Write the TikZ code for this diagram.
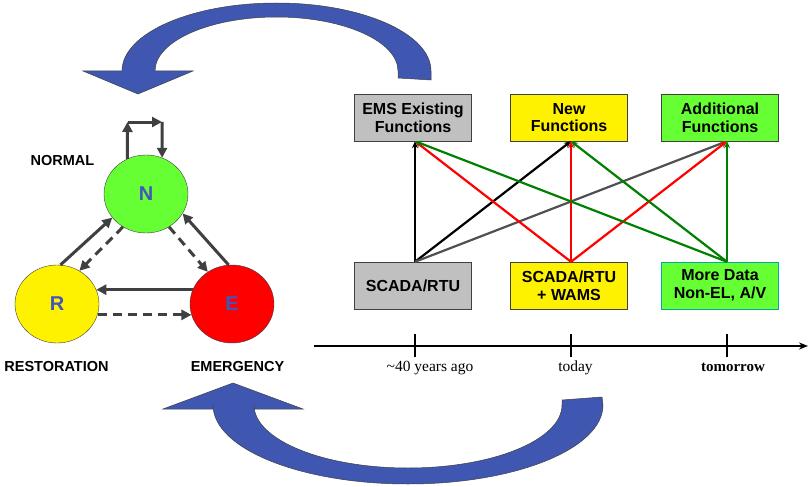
\documentclass[tikz,border=0pt]{standalone}
\usepackage{fontspec}
\setmainfont{Liberation Serif}
\setsansfont{Liberation Sans}
\usetikzlibrary{shapes,arrows.meta}

\definecolor{boxgray}{RGB}{192,192,192}
\definecolor{lightgreen}{RGB}{102,255,51}
\definecolor{bigblue}{RGB}{63,87,176}
\definecolor{letterblue}{RGB}{68,84,190}
\definecolor{arrowgray}{RGB}{64,64,64}
\definecolor{linegray}{RGB}{80,80,80}
\definecolor{darkgreen}{RGB}{0,128,0}
\definecolor{tealborder}{RGB}{0,170,170}

\tikzset{
	state/.style={ellipse,draw=arrowgray,minimum width=84pt,minimum height=78pt,inner sep=0pt,
		font=\sffamily\bfseries\fontsize{20}{22}\selectfont,text=letterblue},
	statelabel/.style={font=\sffamily\bfseries\fontsize{14.5}{16}\selectfont},
	statearrow/.style={draw=arrowgray,line width=3pt,-{Triangle[length=10pt,width=10pt]}},
	dasharrow/.style={statearrow,dash pattern=on 9pt off 6pt},
	fbox/.style={draw=arrowgray,minimum width=117pt,minimum height=47pt,inner sep=0pt,align=center,
		font=\sffamily\bfseries\fontsize{16}{17.8}\selectfont},
	conn/.style={line width=2.2pt,-{Stealth[length=7pt,width=6pt]}},
	timelabel/.style={anchor=base,font=\fontsize{15.5}{17}\selectfont}
}

\begin{document}
\begin{tikzpicture}[x=1pt,y=-1pt]
	\useasboundingbox (0,0) rectangle (809,487);
	% big turn-around arrows
	\fill[bigblue,draw=arrowgray,line width=0.5pt] (431,80) -- (431,71) arc[start angle=0,end angle=-180,x radius=154.5,y radius=68] -- (83,71) -- (138,94) -- (193,71) -- (155,71) arc[start angle=-180,end angle=0,x radius=121.5,y radius=54] -- (398,78) -- cycle;
	\fill[bigblue,draw=arrowgray,line width=0.5pt] (213,409) -- (163,409) -- (233,383) -- (303,409) -- (254,409) -- (254,405) arc[start angle=180,end angle=0,x radius=154,y radius=63] -- (562,400) -- (602,397) -- (603,405) arc[start angle=0,end angle=180,x radius=195,y radius=79] -- cycle;

	% states
	\node[state,fill=lightgreen] (N) at (146,194) {N};
	\node[state,fill=yellow] (R) at (57,304) {R};
	\node[state,fill=red] (E) at (232,304) {E};
	\node[statelabel] (normal) at (62.5,160.5) {NORMAL};
	\node[statelabel] (restoration) at (56.5,366.5) {RESTORATION};
	\node[statelabel] (emergency) at (237.5,366.5) {EMERGENCY};

	\coordinate (loopa) at (127.5,122);
	\coordinate (loopb) at (162,122);
	\draw[statearrow] (N.118) -- (loopa);
	\draw[statearrow] (loopa) -- (loopb);
	\draw[statearrow] (loopb) -- (N.66);
	\draw[statearrow] (R.85) -- (N.215);
	\draw[dasharrow] (N.235) -- (R.56);
	\draw[dasharrow] (N.305) -- (E.127);
	\draw[statearrow] (E.95) -- (N.332);
	\draw[statearrow] (E.160) -- (R.20);
	\draw[dasharrow] (R.345) -- (E.195);

	% functions and data
	\node[fbox,fill=boxgray] (ems) at (413,117.5) {EMS Existing\\Functions};
	\node[fbox,fill=yellow] (new) at (569,117.5) {New\\Functions};
	\node[fbox,fill=lightgreen] (add) at (720,117.5) {Additional\\Functions};
	\node[fbox,fill=boxgray] (scada) at (413,285.5) {SCADA/RTU};
	\node[fbox,fill=yellow] (wams) at (569,285.5) {SCADA/RTU\\+ WAMS};
	\node[fbox,fill=lightgreen,draw=tealborder] (more) at (720,285.5) {More Data\\Non-EL, A/V};

	\draw[conn,black] ([xshift=2pt]scada.north) -- ([xshift=2pt]ems.south);
	\draw[conn,black] ([xshift=2pt]scada.north) -- ([xshift=2pt]new.south);
	\draw[conn,linegray] ([xshift=2pt]scada.north) -- ([xshift=7pt]add.south);
	\draw[conn,red] ([xshift=2pt]wams.north) -- ([xshift=2pt]ems.south);
	\draw[conn,red] ([xshift=2pt]wams.north) -- ([xshift=2pt]new.south);
	\draw[conn,red] ([xshift=2pt]wams.north) -- ([xshift=7pt]add.south);
	\draw[conn,darkgreen] ([xshift=7pt]more.north) -- ([xshift=2pt]ems.south);
	\draw[conn,darkgreen] ([xshift=7pt]more.north) -- ([xshift=2pt]new.south);
	\draw[conn,darkgreen] ([xshift=7pt]more.north) -- ([xshift=7pt]add.south);

	% time line
	\coordinate (axstart) at (314,346);
	\coordinate (axend) at (808,346);
	\draw[line width=1.8pt,-{Stealth[length=9pt,width=7pt]}] (axstart) -- (axend);
	\draw[line width=1.8pt] (415,334) -- (415,357);
	\draw[line width=1.8pt] (571,334) -- (571,357);
	\draw[line width=1.8pt] (727,334) -- (727,357);
	\node[timelabel] (past) at (430,371.5) {\textasciitilde40 years ago};
	\node[timelabel] (today) at (575.5,371.5) {today};
	\node[timelabel,font=\bfseries\fontsize{15}{17}\selectfont] (tomorrow) at (733,371.5) {tomorrow};
\end{tikzpicture}
\end{document}
